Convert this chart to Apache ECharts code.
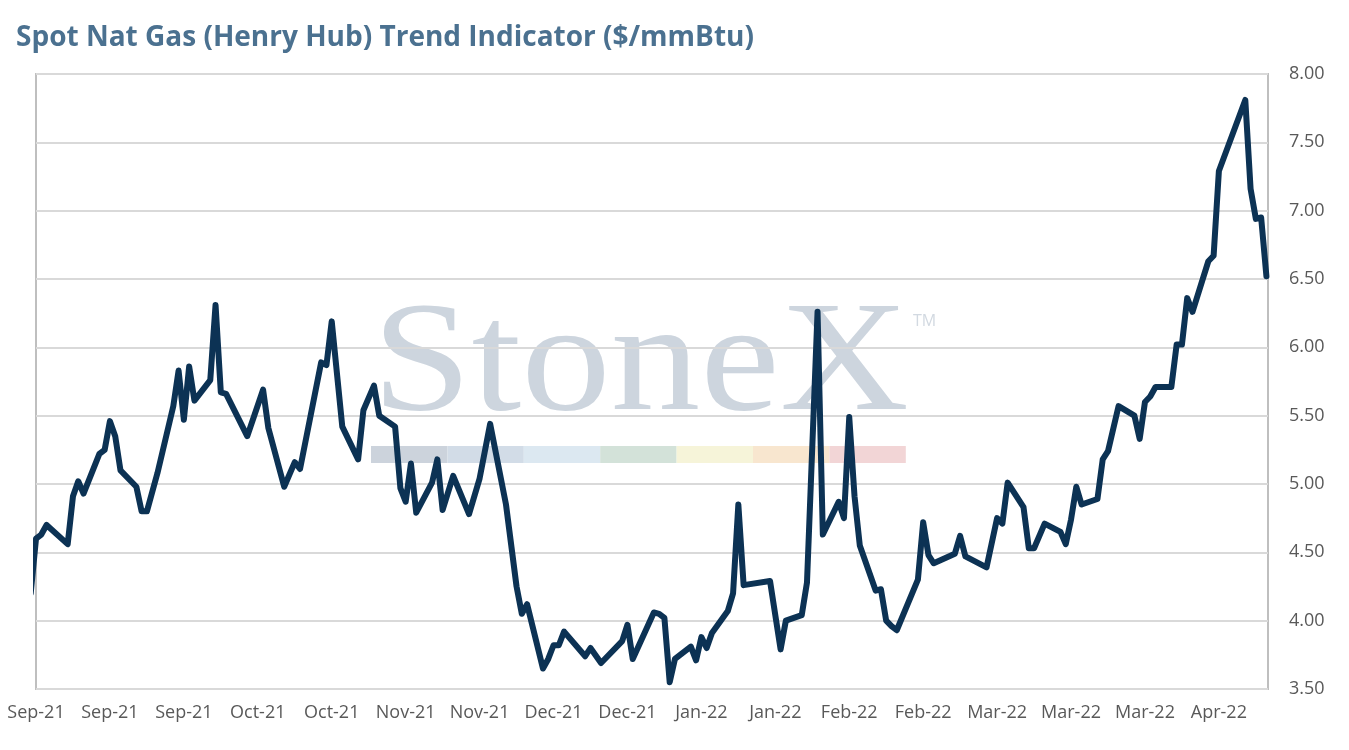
<!DOCTYPE html>
<html>
<head>
<meta charset="utf-8">
<title>Spot Nat Gas (Henry Hub) Trend Indicator</title>
<script src="https://cdn.jsdelivr.net/npm/echarts@6/dist/echarts.min.js"></script>
<style>
  html, body { margin: 0; padding: 0; background: #fff; }
  #chart { width: 1349px; height: 750px; }
</style>
</head>
<body>
<div id="chart"></div>
<script>
// x positions are days since 2021-09-01 (trading days only, weekends skipped)
const days = [
  -1, 0, 1, 2, 6, 7, 8, 9, 12, 13, 14, 15, 16, 19, 20, 21, 23, 26, 27, 28, 29, 30,
  33, 34, 35, 36, 40, 43, 44, 47, 49, 50, 54, 55, 56, 58, 61, 62, 64, 65, 68, 69,
  70, 71, 72, 75, 76, 77, 79, 82, 84, 86, 89, 91, 92, 93, 96, 97, 98, 99, 100, 104,
  105, 107, 111, 112, 113, 117, 118, 119, 120, 121, 124, 125, 126, 127, 128, 131, 132, 133,
  134, 139, 141, 142, 145, 146, 148, 149, 152, 153, 154, 155, 156, 159, 160, 161, 162, 163,
  167, 168, 169, 170, 174, 175, 176, 180, 182, 183, 184, 187, 188, 189, 191, 194, 195, 196,
  197, 198, 201, 202, 203, 205, 208, 209, 210, 211, 212, 215, 216, 217, 218, 219, 222, 223,
  224, 229, 230, 231, 232, 233
]
const prices = [
  4.20, 4.60, 4.63, 4.70, 4.56, 4.91, 5.02, 4.93, 5.22, 5.25, 5.46, 5.35, 5.10, 4.98, 4.80, 4.80, 5.08, 5.57, 5.83, 5.47, 5.86, 5.61,
  5.76, 6.31, 5.67, 5.66, 5.35, 5.69, 5.41, 4.98, 5.16, 5.11, 5.89, 5.87, 6.19, 5.42, 5.18, 5.54, 5.72, 5.50, 5.42, 4.97,
  4.87, 5.15, 4.79, 5.01, 5.18, 4.81, 5.06, 4.78, 5.04, 5.44, 4.85, 4.25, 4.05, 4.12, 3.65, 3.72, 3.82, 3.82, 3.92, 3.74,
  3.80, 3.69, 3.85, 3.97, 3.72, 4.06, 4.05, 4.02, 3.55, 3.72, 3.81, 3.71, 3.88, 3.80, 3.91, 4.07, 4.20, 4.85,
  4.26, 4.29, 3.79, 4.00, 4.04, 4.28, 6.26, 4.63, 4.87, 4.75, 5.49, 4.91, 4.55, 4.22, 4.23, 4.00, 3.96, 3.93,
  4.30, 4.72, 4.48, 4.42, 4.49, 4.62, 4.47, 4.39, 4.75, 4.71, 5.01, 4.83, 4.53, 4.53, 4.71, 4.65, 4.56, 4.74,
  4.98, 4.85, 4.89, 5.18, 5.24, 5.57, 5.50, 5.33, 5.60, 5.64, 5.71, 5.71, 6.02, 6.02, 6.36, 6.26, 6.63, 6.67,
  7.29, 7.81, 7.16, 6.94, 6.95, 6.52
]
// one label every 14 days, starting 2021-09-01
const tickLabels = [
  'Sep-21', 'Sep-21', 'Sep-21', 'Oct-21', 'Oct-21', 'Nov-21', 'Nov-21', 'Dec-21', 'Dec-21',
  'Jan-22', 'Jan-22', 'Feb-22', 'Feb-22', 'Mar-22', 'Mar-22', 'Mar-22', 'Apr-22'
]

const labelColor = '#595959'
const barColors = ['#ccd3dc', '#d2dce7', '#dce8f1', '#d3e2d9', '#f6f4d9', '#f8e6cf', '#f2d5d6']

const chart = echarts.init(document.getElementById('chart'))

// StoneX watermark behind the plot
const watermark = [
  {
    type: 'text',
    left: 372,
    top: 289,
    z: -1,
    scaleX: 1.14,
    style: {
      text: 'StoneX',
      font: '157px "Liberation Serif", serif',
      fill: '#cdd5de'
    }
  },
  {
    type: 'text',
    left: 913,
    top: 313,
    z: -1,
    style: {
      text: 'TM',
      font: '16px "Open Sans", sans-serif',
      fill: '#d2d9e1'
    }
  }
]
barColors.forEach((c, i) => {
  watermark.push({
    type: 'rect',
    z: -1,
    shape: { x: 371 + i * 76.4, y: 446, width: 76.4, height: 17 },
    style: { fill: c }
  })
})

chart.setOption({
  animation: false,
  backgroundColor: '#fff',
  title: {
    text: 'Spot Nat Gas (Henry Hub) Trend Indicator ($/mmBtu)',
    left: 11,
    top: 19,
    textStyle: {
      fontFamily: 'Open Sans',
      fontWeight: 'bold',
      fontSize: 28,
      color: '#4b7190'
    }
  },
  graphic: watermark,
  grid: {
    left: 36,
    right: 81,
    top: 74,
    bottom: 61,
    show: true,
    borderColor: '#bfbfbf',
    borderWidth: 2
  },
  xAxis: {
    type: 'value',
    min: 0,
    max: 233.3,
    interval: 14,
    axisLine: { show: false },
    axisTick: { show: false },
    splitLine: { show: false },
    axisLabel: {
      showMaxLabel: false,
      margin: 15,
      color: labelColor,
      fontFamily: 'Open Sans',
      fontSize: 18,
      formatter: v => (v % 14 === 0 ? tickLabels[v / 14] || '' : '')
    }
  },
  yAxis: {
    type: 'value',
    position: 'right',
    min: 3.5,
    max: 8,
    interval: 0.5,
    axisLine: { show: false },
    axisTick: { show: false },
    splitLine: { lineStyle: { color: '#d9d9d9', width: 2 } },
    axisLabel: {
      margin: 21,
      color: labelColor,
      fontFamily: 'Open Sans',
      fontSize: 18,
      formatter: v => v.toFixed(2)
    }
  },
  series: [
    {
      type: 'line',
      data: days.map((d, i) => [d, prices[i]]),
      showSymbol: false,
      clip: true,
      z: 5,
      lineStyle: {
        color: '#0c3254',
        width: 6,
        join: 'round',
        cap: 'round'
      }
    }
  ]
})
</script>
</body>
</html>
